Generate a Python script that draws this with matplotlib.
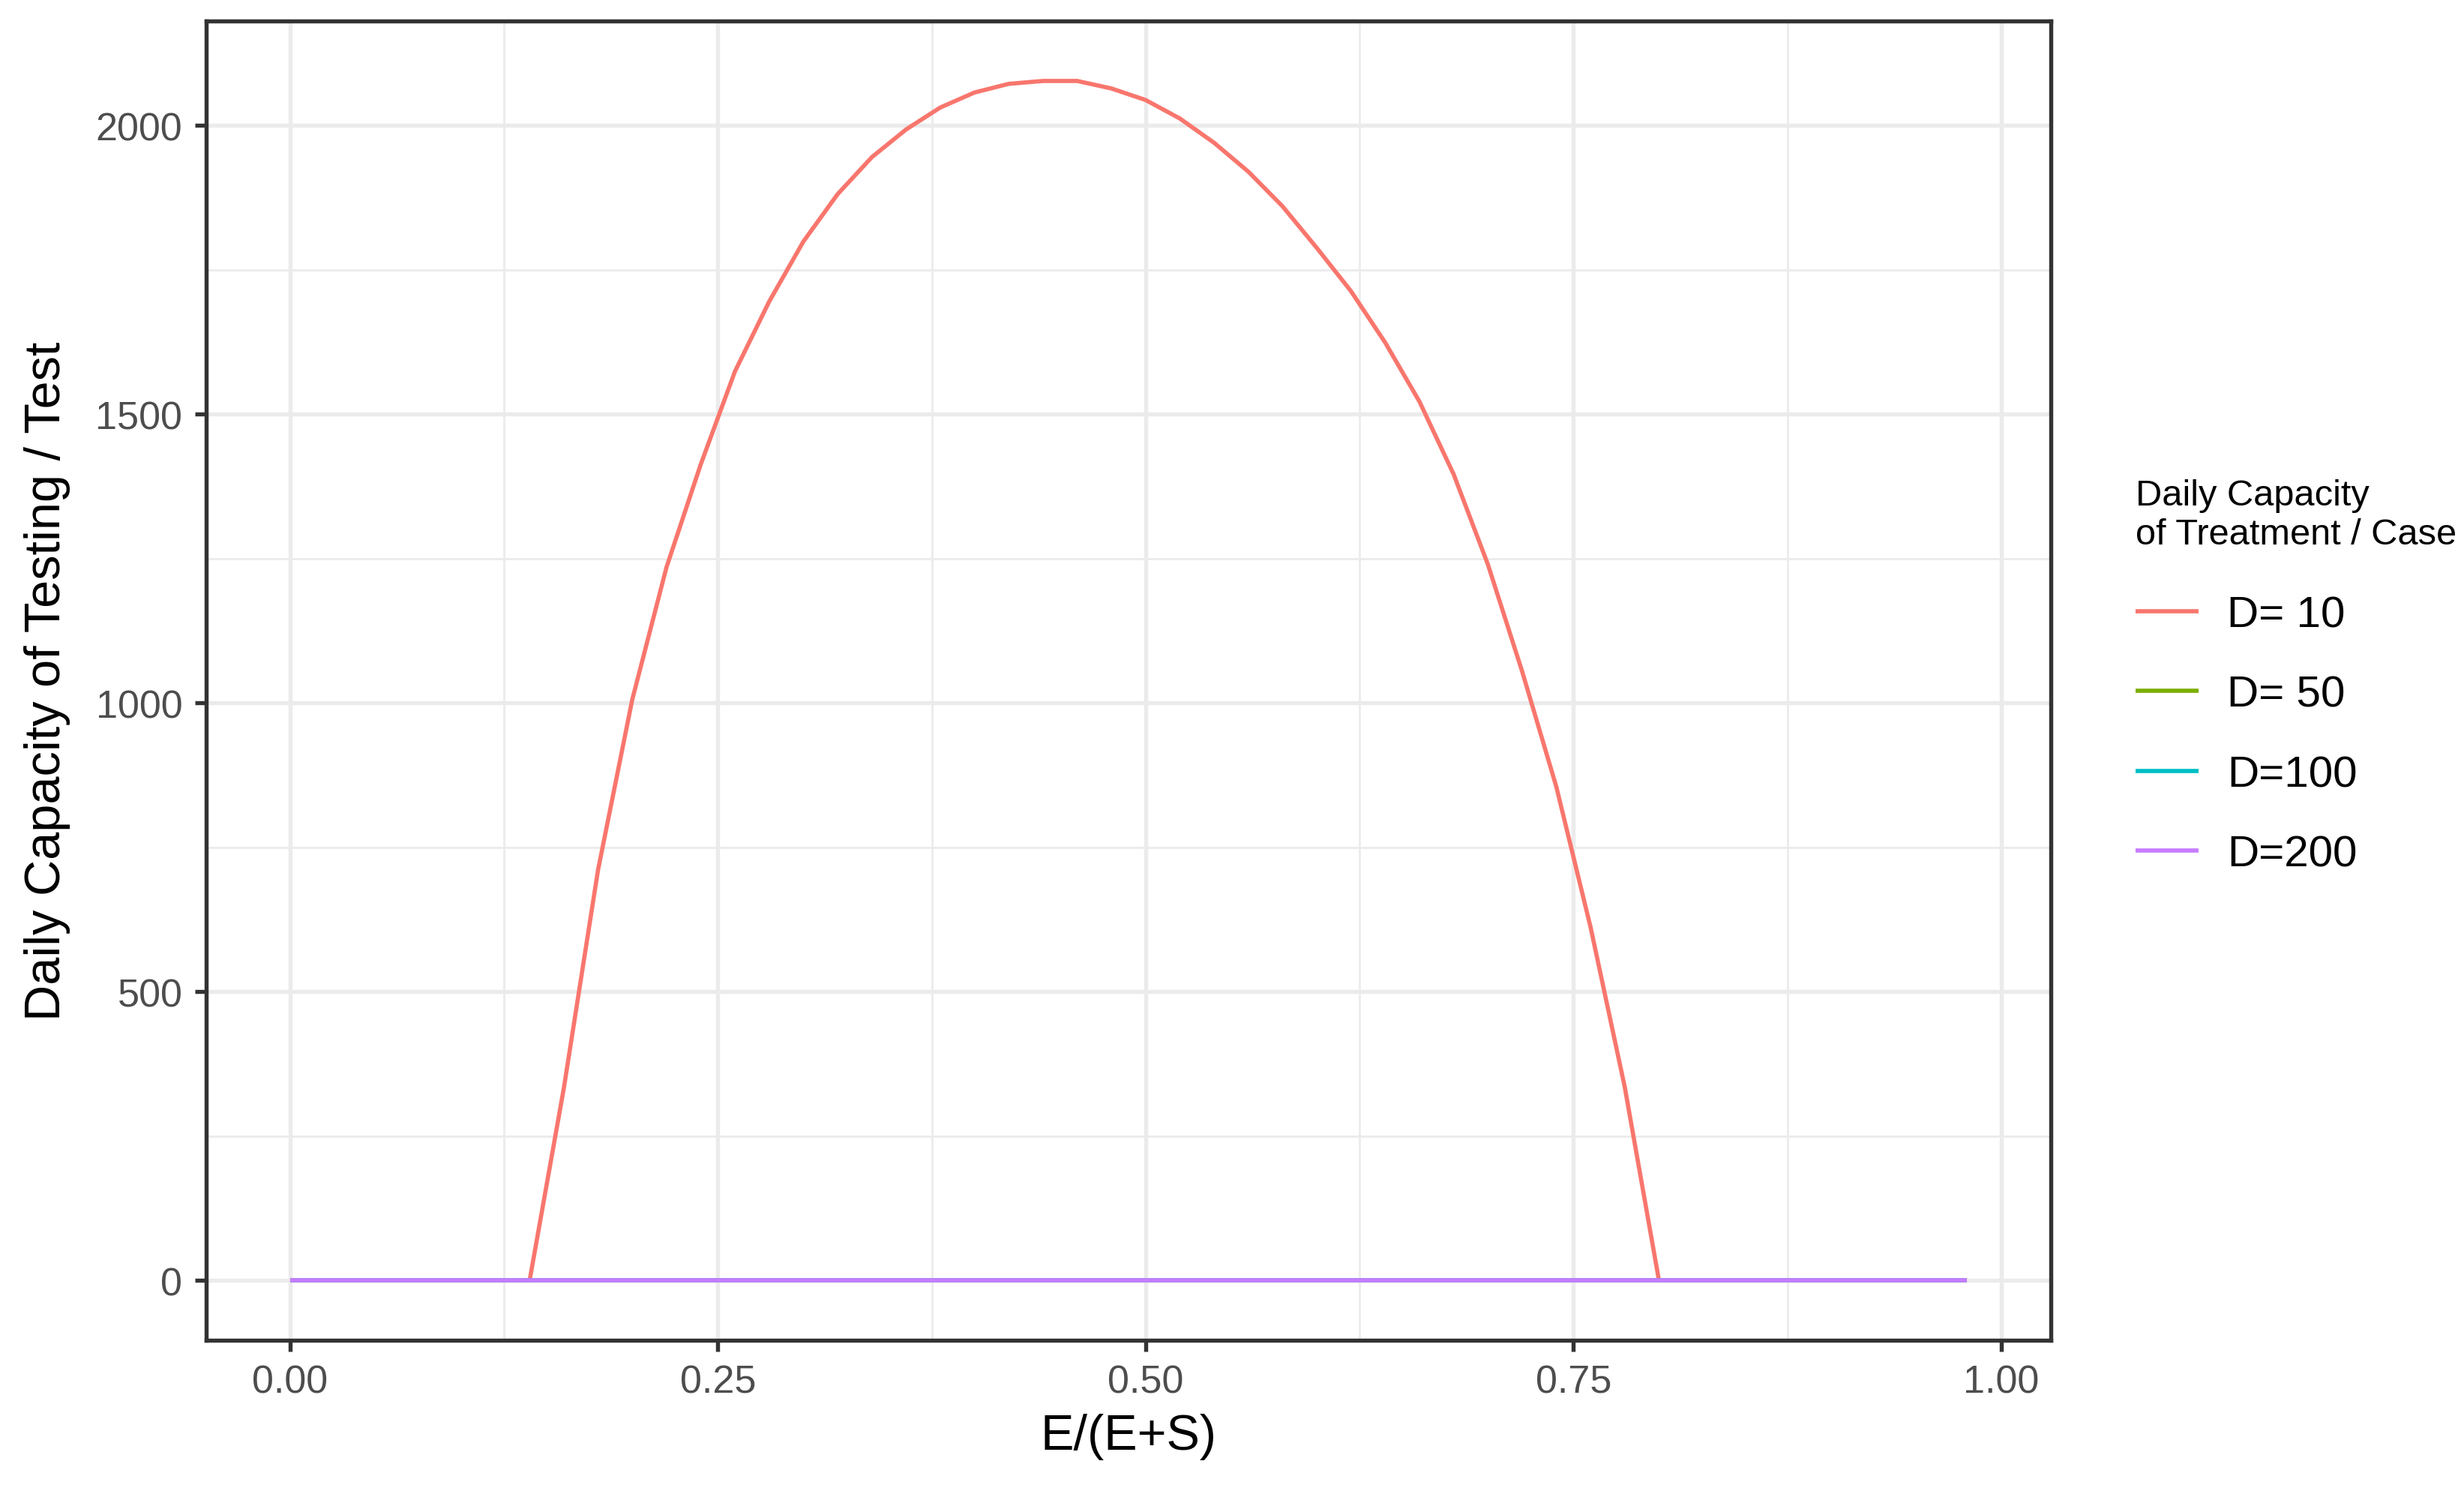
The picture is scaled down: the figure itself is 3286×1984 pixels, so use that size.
import matplotlib
matplotlib.use("Agg")
import matplotlib.pyplot as plt
import numpy as np

plt.rcParams["font.family"] = ["Liberation Sans", "DejaVu Sans"]

# E/(E+S) values, 0.00 .. 0.98 in steps of 0.02
ratio = [round(0.02 * i, 2) for i in range(50)]

# daily capacity of testing per test
cap_d10 = [0, 0, 0, 0, 0, 0, 0, 0, 333, 711,
           1006, 1235, 1413, 1574, 1695, 1799, 1881, 1945, 1993, 2031,
           2057, 2072, 2077, 2077, 2064, 2044, 2012, 1970, 1920, 1860,
           1788, 1713, 1624, 1522, 1396, 1240, 1055, 855, 612, 335,
           0, 0, 0, 0, 0, 0, 0, 0, 0, 0]
cap_d50 = [0] * 50
cap_d100 = [0] * 50
cap_d200 = [0] * 50

labels = ["D= 10", "D= 50", "D=100", "D=200"]
series = [cap_d10, cap_d50, cap_d100, cap_d200]
colors = ["#F8766D", "#7CAE00", "#00BFC4", "#C77CFF"]

fig = plt.figure(figsize=(3286 / 300, 1985 / 300), dpi=300)
ax = fig.add_axes([0.0837, 0.0992, 0.7486, 0.8862])

for lab, vals, col in zip(labels, series, colors):
    ax.plot(ratio, vals, color=col, lw=1.35, label=lab, solid_capstyle="butt")

# ggplot-like limits (5% expansion)
ymax = max(cap_d10)
ax.set_xlim(-0.049, 0.98 + 0.049)
ax.set_ylim(-0.05 * ymax, ymax * 1.05)

ax.set_xticks([0, 0.25, 0.5, 0.75, 1.0])
ax.set_xticklabels(["0.00", "0.25", "0.50", "0.75", "1.00"])
ax.set_xticks([0.125, 0.375, 0.625, 0.875], minor=True)
ax.set_yticks([0, 500, 1000, 1500, 2000])
ax.set_yticks([250, 750, 1250, 1750], minor=True)

ax.grid(True, which="major", color="#EBEBEB", lw=1.3)
ax.grid(True, which="minor", color="#EBEBEB", lw=0.65)
ax.set_axisbelow(True)
for s in ax.spines.values():
    s.set_color("#333333")
    s.set_linewidth(1.3)

ax.tick_params(which="major", length=3.6, width=1.3, color="#333333",
               labelsize=12.5, labelcolor="#4D4D4D", pad=4)
ax.tick_params(which="minor", length=0)

ax.set_xlabel("E/(E+S)", fontsize=16, labelpad=4)
ax.set_ylabel("Daily Capacity of Testing / Test", fontsize=16, labelpad=8)

leg = fig.legend(loc="upper left", bbox_to_anchor=(0.8595, 0.69),
                 title="Daily Capacity\nof Treatment / Case",
                 fontsize=14, title_fontsize=11.7, frameon=False,
                 handlelength=1.45, handletextpad=0.65, labelspacing=0.9,
                 alignment="left", borderaxespad=0)
leg._legend_box.sep = 14

fig.savefig("out.png", dpi=300, facecolor="white")
